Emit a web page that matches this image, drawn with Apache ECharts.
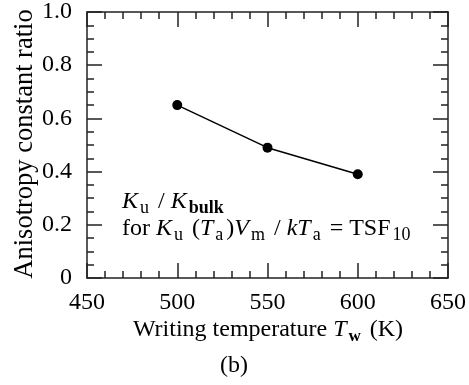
<!DOCTYPE html>
<html><head><meta charset="utf-8">
<script src="https://cdn.jsdelivr.net/npm/echarts@6/dist/echarts.min.js"></script>
<style>html,body{margin:0;padding:0;background:#fff}#c{width:469px;height:385px}</style>
</head><body><div id="c"></div>
<script>
var temps = [500, 550, 600];
var ratios = [0.65, 0.49, 0.39];
var xTicks = [450, 500, 550, 600, 650];
var yTicks = [0, 0.2, 0.4, 0.6, 0.8, 1.0];

var FONT = '"Liberation Serif", "DejaVu Serif", serif';
var AX = '#222';
var chart = echarts.init(document.getElementById('c'), null, {renderer: 'canvas'});

function xAx(pos, show) {
  return {
    type: 'value', position: pos, min: 450, max: 650, interval: 50,
    axisLine: {show: true, onZero: false, lineStyle: {color: AX, width: 1.5}},
    axisTick: {show: true, inside: true, length: 15, lineStyle: {color: AX, width: 1.5}},
    minorTick: {show: true, splitNumber: 5, length: 7, lineStyle: {color: AX, width: 1.5}},
    splitLine: {show: false},
    axisLabel: {show: show, margin: 13, fontFamily: FONT, fontSize: 24, color: '#000',
      formatter: function (v) { return String(v); }}
  };
}
function yAx(pos, show) {
  return {
    type: 'value', position: pos, min: 0, max: 1, interval: 0.2,
    axisLine: {show: true, onZero: false, lineStyle: {color: AX, width: 1.5}},
    axisTick: {show: true, inside: true, length: 15, lineStyle: {color: AX, width: 1.5}},
    minorTick: {show: true, splitNumber: 4, length: 7, lineStyle: {color: AX, width: 1.5}},
    splitLine: {show: false},
    axisLabel: {show: show, margin: 15, fontFamily: FONT, fontSize: 24, color: '#000',
      formatter: function (v) { return v === 0 ? '0' : v.toFixed(1); }}
  };
}

function mkRich(fs, ss) {
  var subS = {fontFamily: FONT, fontSize: ss, verticalAlign: 'bottom', lineHeight: ss + 1, color: '#000', padding: [0, 3, 0, 2]};
  var subB = Object.assign({}, subS, {fontWeight: 'bold'});
  var nrm = {fontFamily: FONT, fontSize: fs, lineHeight: fs + 7, color: '#000'};
  var it = Object.assign({}, nrm, {fontStyle: 'italic'});
  return {n: nrm, i: it, s: subS, b: subB};
}
var richName = mkRich(24, 17);
var richNote = mkRich(24, 18);

chart.setOption({
  animation: false,
  grid: {left: 87, right: 21, top: 8, bottom: 107, containLabel: false},
  xAxis: [xAx('bottom', true), xAx('top', false)],
  yAxis: [yAx('left', true), yAx('right', false)],
  series: [{
    type: 'line', xAxisIndex: 0, yAxisIndex: 0,
    data: temps.map(function (t, i) { return [t, ratios[i]]; }),
    symbol: 'circle', symbolSize: 10,
    itemStyle: {color: '#000'},
    lineStyle: {color: '#000', width: 1.5}
  }],
  graphic: [
    {type: 'text', x: 25, y: 144, rotation: Math.PI / 2,
      style: {text: 'Anisotropy constant ratio', font: '26.5px ' + FONT, fill: '#000',
        align: 'center', verticalAlign: 'middle'}},
    {type: 'text', x: 268, y: 330,
      style: {text: '{n|Writing temperature }{i|T}{b|w}{n| (K)}', rich: richName,
        align: 'center', verticalAlign: 'middle'}},
    {type: 'text', x: 234, y: 366,
      style: {text: '(b)', font: '24px ' + FONT, fill: '#000', align: 'center', verticalAlign: 'middle'}},
    {type: 'text', x: 122, y: 202,
      style: {text: '{i|K}{s|u}{n| / }{i|K}{b|bulk}', rich: richNote, align: 'left', verticalAlign: 'middle'}},
    {type: 'text', x: 122, y: 229,
      style: {text: '{n|for }{i|K}{s|u}{n| (}{i|T}{s|a}{n|)}{i|V}{s|m}{n| / }{i|kT}{s|a}{n| = TSF}{s|10}',
        rich: richNote, align: 'left', verticalAlign: 'middle'}}
  ]
});
</script></body></html>
